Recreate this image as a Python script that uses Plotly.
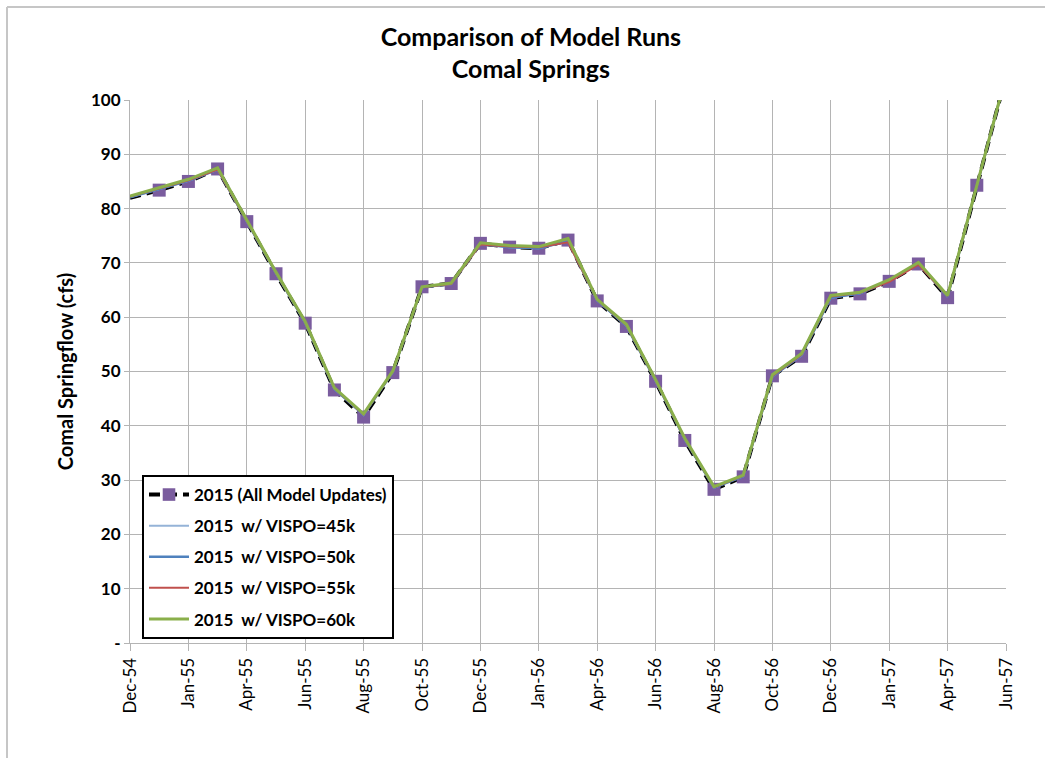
import plotly.graph_objects as go

# Monthly Comal Springs flow (cfs), Dec-54 .. Jun-57
months = ["Dec-54", "Jan-55", "Feb-55", "Mar-55", "Apr-55", "May-55", "Jun-55", "Jul-55",
          "Aug-55", "Sep-55", "Oct-55", "Nov-55", "Dec-55", "Jan-56", "Feb-56", "Mar-56",
          "Apr-56", "May-56", "Jun-56", "Jul-56", "Aug-56", "Sep-56", "Oct-56", "Nov-56",
          "Dec-56", "Jan-57", "Feb-57", "Mar-57", "Apr-57", "May-57", "Jun-57"]

all_updates = [82.0, 83.4, 85.0, 87.3, 77.6, 68.0, 58.9, 46.6, 41.6, 49.8, 65.6, 66.2,
               73.6, 72.9, 72.7, 74.2, 63.0, 58.3, 48.2, 37.3, 28.3, 30.6, 49.2, 52.8,
               63.5, 64.3, 66.6, 69.8, 63.6, 84.3, 104.5]
vispo_45k = [82.1, 83.6, 85.1, 87.2, 77.7, 68.1, 59.0, 46.8, 42.0, 49.9, 65.5, 66.1,
             73.5, 72.9, 72.7, 74.0, 63.1, 58.4, 48.3, 37.5, 28.6, 30.7, 49.1, 53.0,
             63.6, 64.4, 66.7, 69.9, 63.8, 84.3, 104.5]
vispo_50k = [82.1, 83.6, 85.1, 87.2, 77.7, 68.1, 59.0, 46.8, 42.0, 49.9, 65.5, 66.1,
             73.5, 72.9, 72.7, 74.0, 63.1, 58.4, 48.3, 37.5, 28.6, 30.7, 49.1, 53.0,
             63.6, 64.4, 66.7, 69.9, 63.8, 84.3, 104.5]
vispo_55k = [82.2, 83.7, 85.2, 87.2, 77.7, 68.2, 59.1, 46.9, 42.1, 50.0, 65.5, 66.1,
             73.4, 73.0, 72.9, 73.8, 63.2, 58.5, 48.4, 37.6, 28.7, 30.8, 49.2, 53.1,
             63.8, 64.5, 66.5, 69.7, 63.9, 84.3, 104.5]
vispo_60k = [82.3, 83.8, 85.4, 87.5, 77.8, 68.3, 59.2, 47.0, 42.2, 50.1, 65.6, 66.3,
             73.7, 73.2, 73.0, 74.5, 63.3, 58.7, 48.5, 37.7, 28.8, 30.9, 49.4, 53.3,
             64.0, 64.6, 66.9, 70.1, 64.0, 84.5, 104.5]

tick_labels = ["Dec-54", "Jan-55", "Apr-55", "Jun-55", "Aug-55", "Oct-55", "Dec-55", "Jan-56",
               "Apr-56", "Jun-56", "Aug-56", "Oct-56", "Dec-56", "Jan-57", "Apr-57", "Jun-57"]
y_ticks = [0, 10, 20, 30, 40, 50, 60, 70, 80, 90, 100]
y_tick_labels = ["-", "10", "20", "30", "40", "50", "60", "70", "80", "90", "100"]

x = list(range(len(months)))
tick_pos = x[::2]

FONT = "Lato"

fig = go.Figure()

fig.add_trace(go.Scatter(
    x=x, y=all_updates, mode="lines+markers", name="2015 (All Model Updates)",
    legendgroup="a",
    line=dict(color="#000000", width=4, dash="11px,6px"),
    marker=dict(symbol="square", color="#7A5C9E", opacity=1,
                size=[0] + [13] * (len(x) - 1), line=dict(width=0)),
))
series = [
    ("2015  w/ VISPO=45k", vispo_45k, "#95B3D7", 2),
    ("2015  w/ VISPO=50k", vispo_50k, "#4F81BD", 2.5),
    ("2015  w/ VISPO=55k", vispo_55k, "#C0504D", 2),
    ("2015  w/ VISPO=60k", vispo_60k, "#8AAF4B", 3),
]
for i, (name, vals, color, w) in enumerate(series):
    fig.add_trace(go.Scatter(
        x=x, y=vals, mode="lines", name=name, legendgroup=f"s{i}",
        line=dict(color=color, width=w),
    ))

L, R, T, B = 130, 39, 100, 119
W, H = 1045, 762
pw, ph = W - L - R, H - T - B

def px_x(p):
    return (p - L) / pw

def px_y(p):
    return (H - B - p) / ph

fig.update_layout(
    width=W, height=H,
    margin=dict(l=L, r=R, t=T, b=B),
    paper_bgcolor="white", plot_bgcolor="white",
    font=dict(family=FONT, color="#000000"),
    title=dict(
        text="Comparison of Model Runs<br>Comal Springs",
        x=0.508, xanchor="center", y=0.94, yanchor="top",
        font=dict(family=FONT, size=25, color="#000000", weight="bold"),
    ),
    showlegend=True,
    legend=dict(
        x=px_x(142), y=px_y(475), xanchor="left", yanchor="top",
        bgcolor="white", bordercolor="#000000", borderwidth=2,
        font=dict(family=FONT, size=17, weight="bold"),
        itemwidth=40, tracegroupgap=6, traceorder="grouped",
    ),
    xaxis=dict(
        range=[0, len(x) - 1],
        tickmode="array", tickvals=tick_pos, ticktext=tick_labels,
        tickangle=-90, tickfont=dict(family=FONT, size=17, color="#000000"),
        ticks="outside", ticklen=7, tickcolor="#b4b4b4",
        showgrid=True, gridcolor="#b4b4b4", gridwidth=1,
        showline=True, linecolor="#b4b4b4", linewidth=1,
        zeroline=False,
    ),
    yaxis=dict(
        range=[0, 100],
        tickmode="array", tickvals=y_ticks, ticktext=y_tick_labels,
        tickfont=dict(family=FONT, size=17, color="#000000", weight="bold"),
        ticks="outside", ticklen=5, tickcolor="#b4b4b4",
        showgrid=True, gridcolor="#b4b4b4", gridwidth=1,
        showline=True, linecolor="#b4b4b4", linewidth=1,
        zeroline=False,
        title=dict(text="Comal Springflow (cfs)", standoff=12,
                   font=dict(family=FONT, size=20, color="#000000", weight="bold")),
    ),
    shapes=[
        dict(type="line", xref="paper", yref="paper", x0=px_x(7), x1=px_x(W + 5),
             y0=px_y(7), y1=px_y(7), line=dict(color="#c6c6c6", width=2)),
        dict(type="line", xref="paper", yref="paper", x0=px_x(7), x1=px_x(7),
             y0=px_y(7), y1=px_y(758), line=dict(color="#c6c6c6", width=2)),
    ],
)

fig.write_html("out.html")
